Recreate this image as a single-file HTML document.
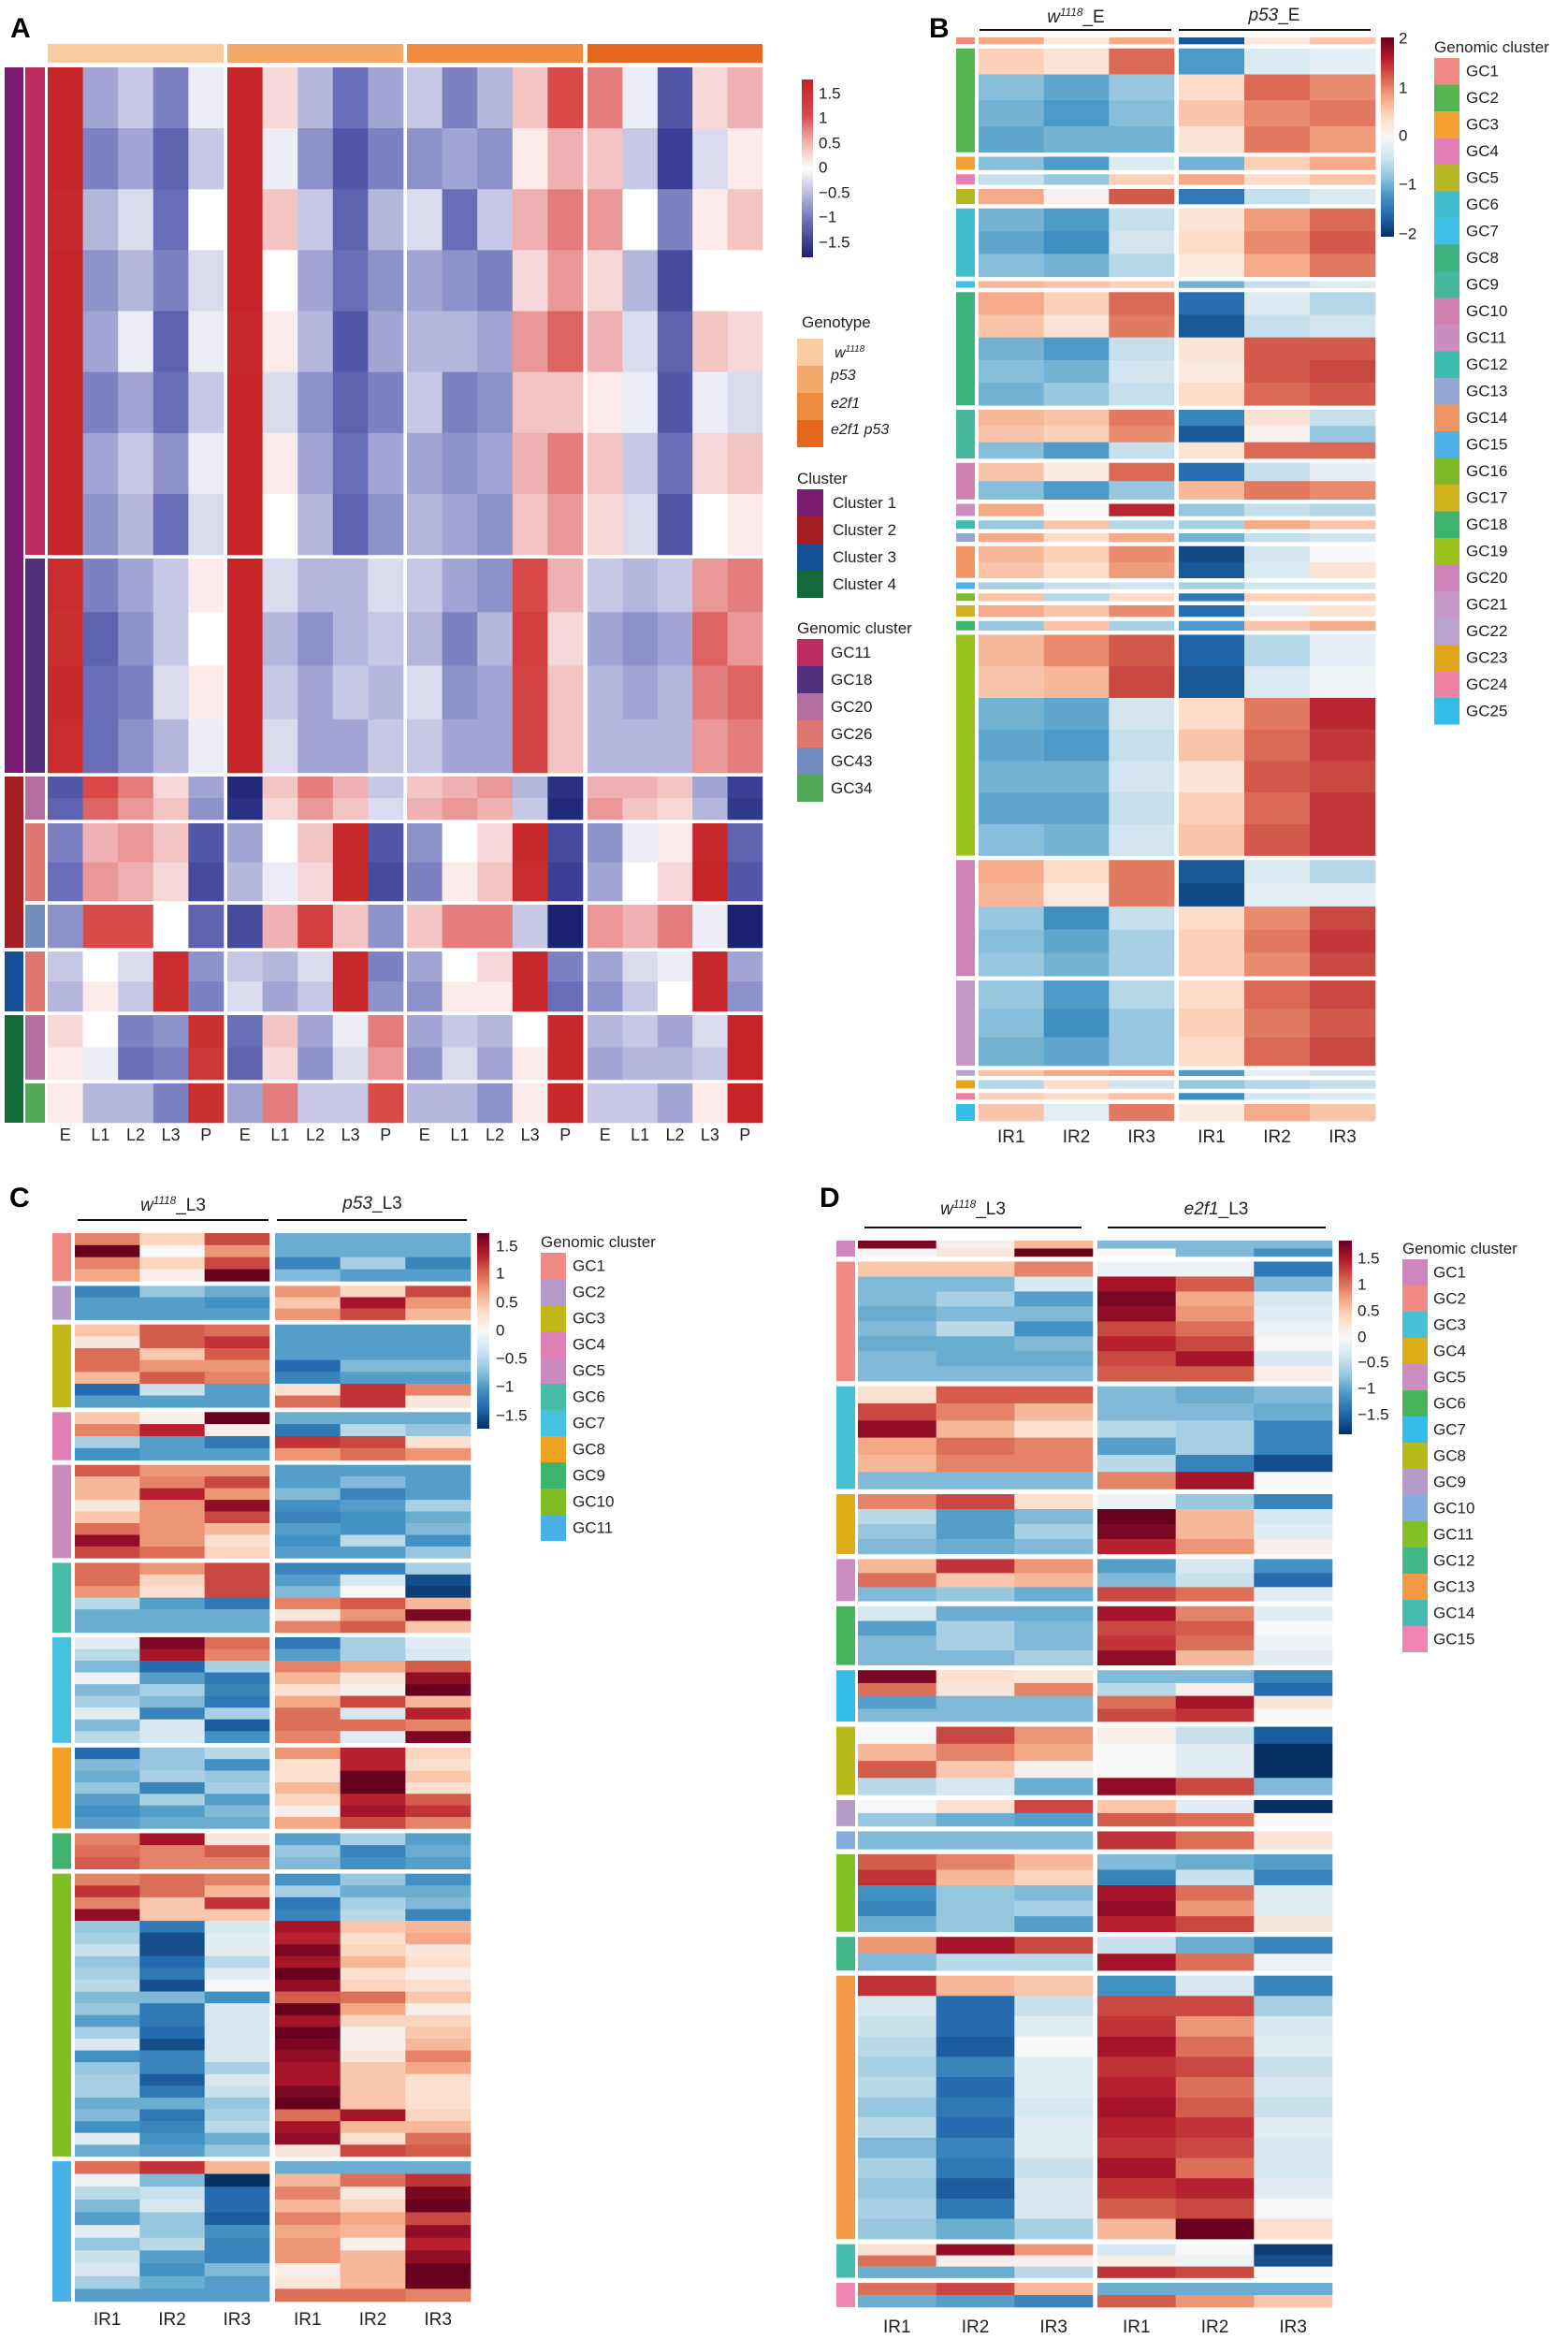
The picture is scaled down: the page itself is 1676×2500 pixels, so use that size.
<!DOCTYPE html>
<html><head><meta charset="utf-8"><style>
html,body{margin:0;padding:0;background:#fff}
svg{display:block;font-family:"Liberation Sans",sans-serif}
</style></head><body>
<svg id="fig" width="1676" height="2500" viewBox="0 0 1676 2500">
<defs>
<linearGradient id="gA" x1="0" y1="0" x2="0" y2="1">
<stop offset="0" stop-color="#c32027"/><stop offset="0.2" stop-color="#d84a4a"/><stop offset="0.35" stop-color="#eeb0b0"/><stop offset="0.5" stop-color="#ffffff"/><stop offset="0.65" stop-color="#b4b6dc"/><stop offset="0.8" stop-color="#6a6eb8"/><stop offset="1" stop-color="#1a2170"/></linearGradient>
<linearGradient id="gR" x1="0" y1="0" x2="0" y2="1">
<stop offset="0" stop-color="#67001f"/><stop offset="0.1" stop-color="#b2182b"/><stop offset="0.2" stop-color="#d6604d"/><stop offset="0.3" stop-color="#f4a582"/><stop offset="0.4" stop-color="#fddbc7"/><stop offset="0.5" stop-color="#f7f7f7"/><stop offset="0.6" stop-color="#d1e5f0"/><stop offset="0.7" stop-color="#92c5de"/><stop offset="0.8" stop-color="#4393c3"/><stop offset="0.9" stop-color="#2166ac"/><stop offset="1" stop-color="#053061"/></linearGradient>
</defs>
<g font-weight="bold" font-size="30" fill="#000">
<text x="11" y="40">A</text>
<text x="993" y="40">B</text>
<text x="10" y="1290">C</text>
<text x="876" y="1290">D</text>
</g>
<g id="layer"></g>
</svg>
<script>
// ---------- DATA ----------
const aGenotypes=["w1118","p53","e2f1","e2f1 p53"];
const aStages=["E","L1","L2","L3","P"];
const aBlockNames=["GC11","GC18","GC20","GC26","GC43","GC26","GC20","GC34"];
const aBlockClusters=[1,1,2,2,2,3,4,4];
const aBlockCounts=[521,229,46,83,46,64,69,42];
const aRows=[
[[1.5,-0.5,-0.3,-0.7,-0.1,1.5,0.2,-0.4,-0.8,-0.5,-0.3,-0.7,-0.4,0.3,0.8,0.6,-0.1,-1.0,0.2,0.4],
 [1.5,-0.7,-0.5,-0.9,-0.3,1.5,-0.1,-0.6,-1.0,-0.7,-0.6,-0.5,-0.6,0.1,0.4,0.3,-0.3,-1.2,-0.2,0.1],
 [1.4,-0.4,-0.2,-0.8,0.0,1.5,0.3,-0.3,-0.9,-0.4,-0.2,-0.8,-0.3,0.4,0.6,0.5,0.0,-0.7,0.1,0.3],
 [1.5,-0.6,-0.4,-0.7,-0.2,1.5,0.0,-0.5,-0.8,-0.6,-0.5,-0.6,-0.7,0.2,0.5,0.2,-0.4,-1.1,0.0,0.0],
 [1.5,-0.5,-0.1,-0.9,-0.1,1.4,0.1,-0.4,-1.0,-0.5,-0.4,-0.4,-0.5,0.5,0.7,0.4,-0.2,-0.9,0.3,0.2],
 [1.5,-0.7,-0.5,-0.8,-0.3,1.5,-0.2,-0.6,-0.9,-0.7,-0.3,-0.7,-0.6,0.3,0.3,0.1,-0.1,-1.0,-0.1,-0.2],
 [1.5,-0.5,-0.3,-0.6,-0.1,1.5,0.1,-0.5,-0.8,-0.5,-0.5,-0.6,-0.5,0.4,0.6,0.3,-0.3,-0.8,0.2,0.3],
 [1.5,-0.6,-0.4,-0.8,-0.2,1.5,0.0,-0.4,-0.9,-0.6,-0.4,-0.5,-0.6,0.3,0.5,0.2,-0.2,-1.0,0.0,0.1]],
[[1.3,-0.7,-0.5,-0.3,0.1,1.5,-0.2,-0.4,-0.4,-0.2,-0.3,-0.5,-0.6,0.8,0.4,-0.3,-0.4,-0.3,0.5,0.6],
 [1.2,-0.9,-0.6,-0.3,0.0,1.5,-0.4,-0.6,-0.4,-0.3,-0.4,-0.7,-0.4,1.0,0.2,-0.5,-0.6,-0.5,0.7,0.5],
 [1.4,-0.8,-0.7,-0.2,0.1,1.5,-0.3,-0.5,-0.3,-0.4,-0.2,-0.6,-0.5,0.9,0.3,-0.4,-0.5,-0.4,0.6,0.7],
 [1.3,-0.8,-0.6,-0.4,-0.1,1.5,-0.2,-0.5,-0.5,-0.3,-0.3,-0.5,-0.5,0.9,0.3,-0.4,-0.4,-0.4,0.5,0.6]],
[[-1.0,0.8,0.6,0.2,-0.5,-1.5,0.3,0.6,0.4,-0.3,0.3,0.4,0.5,-0.4,-1.4,0.4,0.4,0.3,-0.5,-1.2],
 [-0.9,0.7,0.5,0.3,-0.6,-1.4,0.2,0.5,0.3,-0.2,0.4,0.5,0.4,-0.3,-1.5,0.5,0.3,0.2,-0.4,-1.3]],
[[-0.7,0.4,0.5,0.3,-1.0,-0.5,0.0,0.3,1.4,-1.0,-0.6,0.0,0.2,1.4,-1.1,-0.6,-0.1,0.1,1.4,-0.9],
 [-0.8,0.5,0.4,0.2,-1.1,-0.4,-0.1,0.2,1.4,-1.1,-0.7,0.1,0.3,1.3,-1.2,-0.5,0.0,0.2,1.5,-1.0]],
[[-0.6,0.8,0.8,0.0,-0.9,-1.1,0.4,1.0,0.3,-0.6,0.3,0.6,0.6,-0.3,-1.6,0.5,0.4,0.6,-0.1,-1.7]],
[[-0.3,0.0,-0.2,1.3,-0.6,-0.3,-0.4,-0.2,1.4,-0.7,-0.5,0.0,0.2,1.4,-0.7,-0.5,-0.2,-0.1,1.4,-0.5],
 [-0.4,0.1,-0.3,1.2,-0.7,-0.2,-0.5,-0.3,1.4,-0.6,-0.6,0.1,0.1,1.4,-0.8,-0.6,-0.3,0.0,1.4,-0.6]],
[[0.2,0.0,-0.7,-0.6,1.2,-0.8,0.3,-0.5,-0.1,0.6,-0.5,-0.3,-0.4,0.0,1.4,-0.4,-0.3,-0.5,-0.2,1.5],
 [0.1,-0.1,-0.8,-0.7,1.1,-0.9,0.2,-0.6,-0.2,0.5,-0.6,-0.2,-0.5,0.1,1.4,-0.5,-0.4,-0.4,-0.3,1.5]],
[[0.1,-0.4,-0.4,-0.7,1.2,-0.5,0.6,-0.3,-0.3,0.8,-0.4,-0.4,-0.6,0.1,1.4,-0.3,-0.3,-0.5,0.1,1.5]]
];

const bBlockNames=["GC1","GC2","GC3","GC4","GC5","GC6","GC7","GC8","GC9","GC10","GC11","GC12","GC13","GC14","GC15","GC16","GC17","GC18","GC19","GC20","GC21","GC22","GC23","GC24","GC25"];
const bBlockCounts=[7,111,14,11,16,73,7,121,52,39,13,9,9,34,7,8,12,10,236,124,91,6,9,7,18];
const bRows=[
[[0.8,0.2,0.8,-1.8,0.2,0.6]],
[[0.5,0.3,1.2,-1.2,-0.3,-0.2],[-0.9,-1.1,-0.8,0.4,1.2,1.0],[-1.0,-1.2,-0.9,0.6,1.0,1.1],[-1.1,-1.0,-1.0,0.3,1.1,0.9]],
[[-0.9,-1.2,-0.3,-1.0,0.5,0.8]],
[[-0.5,-0.8,0.5,0.8,0.4,0.6]],
[[0.8,0.1,1.3,-1.5,-0.5,-0.3]],
[[-1.0,-1.2,-0.5,0.3,0.9,1.2],[-1.1,-1.3,-0.4,0.4,1.0,1.3],[-0.9,-1.0,-0.6,0.2,0.8,1.1]],
[[0.7,0.6,0.5,-1.0,-0.5,-0.3]],
[[0.8,0.5,1.2,-1.6,-0.3,-0.6],[0.6,0.3,1.1,-1.8,-0.5,-0.4],[-1.0,-1.2,-0.5,0.3,1.3,1.3],[-0.9,-1.0,-0.4,0.2,1.3,1.4],[-1.0,-0.8,-0.5,0.4,1.2,1.3]],
[[0.7,0.6,1.1,-1.4,0.3,-0.5],[0.6,0.5,1.0,-1.8,0.1,-0.8],[-0.9,-1.2,-0.5,0.3,1.2,1.2]],
[[0.6,0.2,1.2,-1.6,-0.5,-0.2],[-0.9,-1.2,-0.8,0.7,1.1,1.0]],
[[0.8,0.0,1.6,-0.8,-0.5,-0.6]],
[[-0.8,0.6,-0.6,-0.7,0.8,0.6]],
[[0.8,0.4,0.8,-1.0,-0.5,-0.4]],
[[0.7,0.5,1.0,-1.9,-0.4,0.0],[0.6,0.4,0.9,-1.8,-0.3,0.3]],
[[-0.7,-0.5,-0.4,-0.7,-0.4,-0.4]],
[[0.6,-0.6,0.4,-1.5,0.5,0.5]],
[[0.8,0.6,1.0,-1.6,-0.2,0.3]],
[[-0.8,0.6,-0.7,-1.2,0.6,0.8]],
[[0.7,1.0,1.3,-1.7,-0.6,-0.2],[0.6,0.7,1.4,-1.8,-0.3,-0.1],[-1.0,-1.1,-0.4,0.4,1.1,1.6],[-1.1,-1.2,-0.5,0.6,1.2,1.5],[-1.0,-1.0,-0.4,0.3,1.3,1.4],[-1.1,-1.1,-0.5,0.5,1.2,1.5],[-0.9,-1.0,-0.4,0.6,1.3,1.5]],
[[0.8,0.4,1.1,-1.8,-0.3,-0.6],[0.7,0.2,1.1,-1.9,-0.2,-0.2],[-0.8,-1.3,-0.5,0.4,1.0,1.4],[-0.9,-1.1,-0.7,0.5,1.1,1.5],[-0.8,-1.0,-0.7,0.5,1.0,1.4]],
[[-0.8,-1.2,-0.6,0.4,1.2,1.4],[-0.9,-1.3,-0.8,0.5,1.1,1.3],[-1.0,-1.1,-0.8,0.4,1.2,1.4]],
[[0.6,0.8,0.9,-1.2,-0.2,-0.4]],
[[-0.6,0.4,-0.4,-0.8,-0.6,-0.5]],
[[0.5,0.4,0.6,-1.3,-0.4,-0.3]],
[[0.6,-0.2,1.1,0.2,0.8,0.6]]
];

const cBlockNames=["GC1","GC2","GC3","GC4","GC5","GC6","GC7","GC8","GC9","GC10","GC11"];
const cBlockCounts=[51,36,88,51,99,74,112,86,38,300,149];
const cRows=[
[[0.9,0.4,1.2,-0.9,-0.9,-0.9],[1.8,0,0.8,-0.9,-0.9,-0.9],[0.9,0.4,1.2,-1.2,-0.6,-1.2],[0.7,0.1,1.8,-0.8,-1.0,-1.0]],
[[-1.2,-0.7,-0.9,0.8,0.4,1.2],[-1.0,-1.0,-1.1,0.5,1.5,0.8],[-1.0,-1.0,-1.0,0.8,1.2,0.6]],
[[0.5,1.1,1.0,-1.0,-1.0,-1.0],[0.2,1.1,1.3,-1.0,-1.0,-1.0],[1.0,0.5,1.1,-1.0,-1.0,-1.0],[1.0,0.8,0.8,-1.4,-0.8,-0.8],[0.6,1.1,0.9,-1.2,-1.0,-1.0],[-1.4,-0.4,-1.0,0.3,1.3,0.9],[-1.0,-1.0,-1.0,1.0,1.3,0.2]],
[[0.5,0.1,1.9,-0.9,-0.9,-0.9],[0.9,1.4,0.1,-1.3,-0.5,-0.7],[-0.6,-1.0,-1.3,1.3,1.2,0.3],[-1.1,-1.0,-1.0,0.8,1.0,0.8]],
[[1.1,0.8,0.8,-1.0,-1.0,-1.0],[0.6,0.9,1.2,-1.0,-0.8,-1.0],[0.6,1.4,0.8,-0.8,-1.2,-1.0],[0.2,0.8,1.6,-1.1,-1.0,-0.6],[0.5,0.8,1.2,-1.2,-1.1,-0.9],[1.0,0.8,0.6,-1.0,-1.1,-0.8],[1.6,0.8,0.3,-1.1,-0.5,-1.1],[1.2,1.0,0.4,-1.0,-1.0,-0.7]],
[[1.0,0.8,1.2,-1.2,-1.2,-0.6],[1.0,0.4,1.2,-1.0,-0.3,-1.6],[0.8,0.3,1.2,-0.8,0,-1.7],[-0.5,-1.0,-1.3,0.9,1.1,0.6],[-0.9,-0.9,-0.9,0.2,0.8,1.7],[-0.9,-0.9,-0.9,0.9,1.1,0.5]],
[[-0.2,1.7,1.0,-1.3,-0.6,-0.2],[-0.5,1.5,0.9,-1.0,-0.6,-0.3],[-0.8,-1.4,-0.6,0.9,0.7,1.1],[-0.1,-1.0,-1.3,0.6,0.2,1.6],[-0.8,-0.6,-1.2,0.3,0.1,1.9],[-0.6,-0.8,-1.3,0.7,1.2,0.6],[-0.2,-1.2,-0.6,1.0,-0.3,1.4],[-0.8,-0.3,-1.5,1.0,1.0,0.9],[-0.5,-0.3,-1.1,0.9,-0.2,1.7]],
[[-1.4,-0.7,-0.5,0.8,1.4,0.4],[-0.8,-0.7,-1.1,0.3,1.4,0.3],[-0.9,-0.6,-0.7,0.3,1.9,0.5],[-0.7,-1.2,-0.6,0.6,1.8,0.3],[-1.0,-0.6,-1.0,0.4,1.4,1.1],[-1.1,-1.0,-0.8,0.1,1.5,1.3],[-1.0,-0.9,-0.9,0.7,1.2,0.9]],
[[0.9,1.5,0.2,-1.0,-0.6,-1.0],[1.0,0.9,1.1,-0.7,-1.2,-0.9],[1.1,0.9,0.9,-0.8,-1.1,-1.0]],
[[0.9,1.0,0.9,-1.1,-0.7,-1.1],[1.3,1.0,0.6,-0.6,-0.9,-0.9],[0.9,0.5,1.3,-1.3,-0.6,-0.8],[1.6,0.5,0.5,-1.2,-0.5,-1.2],[-0.7,-1.3,-0.3,1.5,0.5,0.6],[-0.6,-1.6,-0.2,1.4,0.3,0.7],[-0.4,-1.6,-0.2,1.7,0.4,0.2],[-0.7,-1.4,-0.5,1.5,0.6,0.3],[-0.6,-1.3,-0.2,1.8,0.3,0.1],[-0.5,-1.6,0,1.6,0.4,0.3],[-0.8,-0.8,-1.1,1.1,1.0,0.5],[-0.7,-1.3,-0.3,1.8,0.7,0.1],[-1.0,-1.3,-0.3,1.5,0.4,0.4],[-0.6,-1.4,-0.3,1.8,0.1,0.5],[-0.3,-1.6,-0.3,1.7,0.1,0.6],[-1.1,-1.2,-0.3,1.6,0.2,0.9],[-0.7,-1.2,-0.6,1.5,0.5,0.7],[-0.6,-1.5,-0.3,1.5,0.5,0.3],[-0.6,-1.3,-0.4,1.7,0.5,0.3],[-0.9,-0.9,-0.7,1.9,0.5,0.3],[-0.8,-1.3,-0.6,1.0,1.5,0.4],[-1.1,-1.2,-0.5,1.5,0.6,0.6],[-0.2,-1.1,-0.9,1.6,0.3,1.0],[-0.9,-1.0,-0.7,0.2,1.2,1.1]],
[[1.0,1.3,0.6,-0.9,-0.9,-0.9],[-0.1,-0.8,-1.8,0.6,1.0,1.3],[-0.5,-0.4,-1.4,0.9,0.2,1.7],[-0.8,-0.3,-1.4,0.6,0.4,1.9],[-1.0,-0.7,-1.5,0.9,0.7,1.2],[-0.2,-0.7,-1.1,0.7,0.6,1.6],[-0.7,-0.5,-1.2,0.8,0.1,1.4],[-0.4,-1.0,-1.2,0.8,0.6,1.6],[-0.3,-1.1,-0.8,0.1,0.6,1.9],[-0.6,-0.9,-1.0,0.2,0.6,1.8],[-1.0,-1.0,-1.0,1.0,1.0,0.9]]
];

const dBlockNames=["GC1","GC2","GC3","GC4","GC5","GC6","GC7","GC8","GC9","GC10","GC11","GC12","GC13","GC14","GC15"];
const dBlockCounts=[17,128,110,64,45,63,55,73,28,19,83,36,282,36,26];
const dRows=[
[[1.7,0.1,0.6,-0.8,-0.8,-0.8],[0,0.2,1.8,0,-0.8,-1.1]],
[[0.5,0.5,0.9,-0.1,-0.1,-1.3],[-0.8,-0.8,-0.3,1.5,1.1,-0.8],[-0.8,-0.6,-1.0,1.7,0.7,-0.3],[-0.9,-0.8,-0.8,1.6,0.8,-0.2],[-0.8,-0.5,-1.1,1.2,1.0,-0.1],[-0.9,-0.9,-0.8,1.4,1.2,0],[-0.8,-0.9,-0.9,1.2,1.5,-0.3],[-0.8,-0.8,-0.8,1.1,1.1,0.1]],
[[0.3,1.1,1.1,-0.8,-0.9,-0.8],[1.2,0.9,0.6,-0.8,-0.8,-0.9],[1.6,0.6,0.3,-0.5,-0.6,-1.2],[0.7,1.0,0.9,-1.0,-0.6,-1.2],[0.6,0.9,0.9,-0.5,-1.2,-1.6],[-0.8,-0.8,-0.8,0.9,1.5,0]],
[[0.9,1.2,0.3,-0.1,-0.7,-1.2],[-0.5,-1.0,-0.8,1.8,0.6,-0.3],[-0.7,-1.0,-0.6,1.7,0.6,-0.2],[-0.8,-0.9,-0.8,1.4,0.8,0.1]],
[[0.6,1.3,0.8,-1.0,-0.3,-1.1],[1.0,0.5,0.6,-0.8,-0.4,-1.4],[-0.8,-0.7,-0.9,1.2,1.0,-0.2]],
[[-0.3,-0.9,-0.9,1.5,0.9,-0.2],[-1.0,-0.6,-0.8,1.2,1.1,0],[-0.8,-0.6,-0.8,1.3,1.0,-0.1],[-0.8,-0.8,-0.6,1.6,0.6,-0.2]],
[[1.7,0.3,0.2,-0.8,-0.8,-1.2],[1.0,0.2,0.9,-0.5,0.1,-1.4],[-1.0,-0.8,-0.8,1.0,1.5,0.2],[-0.8,-0.8,-0.8,1.2,1.3,0]],
[[0,1.2,0.8,0.1,-0.4,-1.5],[0.6,0.9,0.7,0,-0.2,-1.9],[1.1,0.5,0.1,0,-0.2,-1.8],[-0.5,-0.3,-0.9,1.6,1.2,-0.8]],
[[0,0.3,1.2,0.5,-0.2,-1.8],[-0.7,-0.9,-1.0,1.1,1.0,0]],
[[-0.8,-0.8,-0.8,1.3,1.0,0.2]],
[[1.1,0.9,0.6,-0.8,-0.9,-1.0],[1.3,0.6,0.4,-1.2,-0.4,-1.2],[-1.1,-0.7,-0.8,1.5,1.0,-0.2],[-1.2,-0.7,-0.6,1.6,0.8,-0.2],[-0.9,-0.7,-1.0,1.4,1.2,0.2]],
[[0.8,1.5,1.2,-0.4,-0.9,-1.2],[-0.8,-0.5,-0.5,1.5,1.0,-0.1]],
[[1.3,0.6,0.5,-1.1,-0.3,-1.2],[-0.3,-1.4,-0.4,1.2,1.2,-0.6],[-0.4,-1.4,-0.2,1.3,0.8,-0.3],[-0.5,-1.5,0,1.5,1.0,-0.2],[-0.6,-1.2,-0.2,1.3,1.2,-0.4],[-0.5,-1.4,-0.2,1.4,1.0,-0.3],[-0.7,-1.3,-0.3,1.5,1.1,-0.4],[-0.5,-1.4,-0.2,1.4,1.3,-0.2],[-0.8,-1.2,-0.2,1.3,1.2,-0.3],[-0.6,-1.3,-0.4,1.5,1.0,-0.3],[-0.7,-1.5,-0.3,1.3,1.4,-0.2],[-0.6,-1.3,-0.3,1.1,1.2,0],[-0.7,-0.9,-0.6,0.6,1.8,0.3]],
[[0.3,1.6,0.8,-0.3,0,-1.7],[1.0,0.1,0.1,0.1,-0.1,-1.6],[-0.9,-0.9,-0.5,1.3,1.2,0]],
[[1.0,1.2,0.6,-0.9,-0.9,-0.9],[-0.9,-1.0,-1.2,1.1,0.8,0.5]]
];

// ---------- COLORS ----------
const aClusterColors={1:"#7a1c74",2:"#a61d24",3:"#154f97",4:"#136a38"};
const aGcColors={GC11:"#be2d62",GC18:"#52307c",GC20:"#b56ea0",GC26:"#dc7871",GC43:"#718ebf",GC34:"#55a857"};
const aGenoColors=["#f8cba0","#f4a96a","#ef8b3e","#e6691d"];
const bColors=["#f08a82","#52b550","#f5a033","#e57eb5","#b5b823","#42bdd0","#40c0e8","#3db380","#45b89b","#d27fb2","#cc8cbf","#3fbcb0","#93a6d4","#f19464","#4eb0e8","#7dbb28","#d1b21d","#3db46c","#9bc21c","#cd82b8","#c497c6","#b9a2cf","#e3a51b","#ef82a3","#35bde9"];
const cColors=["#f08a82","#b59ccb","#c2b81a","#e080b5","#cb8bbf","#47bda8","#46c1e0","#f0a022","#3fb46e","#80bd24","#48b2e8"];
const dColors=["#cf86bf","#f08a82","#45c0d5","#dcac19","#cc8dc0","#47b55b","#34bde9","#b6bb1b","#b59ccb","#86ade0","#82c026","#42b789","#f39a47","#47bcb0","#ef85b1"];

const NS="http://www.w3.org/2000/svg";
const layer=document.getElementById("layer");
function mk(tag,attrs,parent){const e=document.createElementNS(NS,tag);for(const k in attrs)e.setAttribute(k,attrs[k]);(parent||layer).appendChild(e);return e;}
function hex(h){return [parseInt(h.slice(1,3),16),parseInt(h.slice(3,5),16),parseInt(h.slice(5,7),16)];}
function interp(stops,t){t=Math.max(0,Math.min(1,t));const p=t*(stops.length-1);const i=Math.min(stops.length-2,Math.floor(p));const f=p-i;const a=hex(stops[i]),b=hex(stops[i+1]);return "rgb("+a.map((v,k)=>Math.round(v+(b[k]-v)*f)).join(",")+")";}
const rdbu=["#053061","#2166ac","#4393c3","#92c5de","#d1e5f0","#f7f7f7","#fddbc7","#f4a582","#d6604d","#b2182b","#67001f"];
const aStops=["#1a2170","#3a3f95","#6a6eb8","#b4b6dc","#ffffff","#eeb0b0","#d84a4a","#cb3030","#c32027"];
function colA(v){return interp(aStops,(v+1.6)/3.2);}
function colB(v){return interp(rdbu,(v+2.1)/4.2);}
function colCD(v){return interp(rdbu,(v+1.8)/3.6);}

// y-scale from counts
function blockY(counts,y0,y1,gap){const tot=counts.reduce((a,b)=>a+b,0);const k=(y1-y0-gap*(counts.length-1))/tot;const out=[];let y=y0;counts.forEach(c=>{out.push([y,y+c*k]);y+=c*k+gap;});return out;}

function heat(name,rows,counts,ys,groups,ncol,colFn){
  const g=mk("g",{});
  
  
  rows.forEach((blk,bi)=>{
    const [ya,yb]=ys[bi];const rh=(yb-ya)/blk.length;
    blk.forEach((r,ri)=>{
      groups.forEach((gr,gi)=>{
        const cw=(gr[1]-gr[0])/ncol;
        for(let c=0;c<ncol;c++){
          const v=r[gi*ncol+c];
          const rc=mk("rect",{x:(gr[0]+c*cw).toFixed(2),y:(ya+ri*rh).toFixed(2),width:(cw+0.3).toFixed(2),height:(rh+0.3).toFixed(2),fill:colFn(v)},g);
          
          
        }
      });
    });
  });
}
function txt(s,x,y,size,attrs,name){const t=mk("text",Object.assign({x:x,y:y,"font-size":size,fill:"#222"},attrs||{}));t.textContent=s;
  
  
  return t;}
function annot(name,ys,colors,x,w){ys.forEach((yy,i)=>{const r=mk("rect",{x:x,y:yy[0],width:w,height:yy[1]-yy[0],fill:colors[i]});
  
  });}
function colorbar(name,x,y,w,h,grad,labels,lx,size){const r=mk("rect",{x:x,y:y,width:w,height:h,fill:"url(#"+grad+")"});
  
  
  labels.forEach(l=>txt(l[0],lx,l[1],size,{"dominant-baseline":"middle"},"colorbar-tick"));}
function legend(title,names,colors,x,y0,sw,sh,step,tx,size){txt(title,x,y0-6,size,{},"legend-title");
  names.forEach((n,i)=>{const r=mk("rect",{x:x,y:y0+i*step,width:sw,height:sh,fill:colors[i]});
    
    
    txt(n,tx,y0+i*step+sh/2+1,size,{"dominant-baseline":"middle"},"legend-entry");});}
function italSup(x,y,size,base,sup,rest,anchor,name){const t=mk("text",{x:x,y:y,"font-size":size,fill:"#222","text-anchor":anchor||"middle"});
  
  
  const a=mk("tspan",{"font-style":"italic"},t);a.textContent=base;
  if(sup){const b=mk("tspan",{"font-style":"italic","font-size":size*0.62,dy:-size*0.38},t);b.textContent=sup;}
  if(rest){const c=mk("tspan",{dy:sup?size*0.38:0},t);c.textContent=rest;}
  return t;}

// ---------- PANEL A ----------
(function(){
  const groups=[[51,239],[243,431],[435,623],[628,815]];
  const ys=blockY(aBlockCounts,72,1200,4);
  groups.forEach((g,i)=>{const r=mk("rect",{x:g[0],y:47,width:g[1]-g[0],height:20,fill:aGenoColors[i]});
    
    });
  heat("heatmap-a",aRows,aBlockCounts,ys,groups,5,colA);
  annot("genomic-cluster-annotation",ys,aBlockNames.map(n=>aGcColors[n]),27,21);
  // cluster spans
  const spans={};aBlockClusters.forEach((c,i)=>{if(!spans[c])spans[c]=[ys[i][0],ys[i][1]];else spans[c][1]=ys[i][1];});
  Object.keys(spans).forEach(c=>{const r=mk("rect",{x:5,y:spans[c][0],width:20,height:spans[c][1]-spans[c][0],fill:aClusterColors[c]});
    
    });
  groups.forEach(g=>{const cw=(g[1]-g[0])/5;aStages.forEach((s,i)=>txt(s,g[0]+cw*(i+0.5),1219,18,{"text-anchor":"middle"},"stage-label"));});
  colorbar("colorbar-a",857,85,12,190,"gA",[["1.5",101],["1",127],["0.5",154],["0",180],["\u22120.5",207],["\u22121",233],["\u22121.5",260]],875,17);
  txt("Genotype",857,350,17,{},"legend-title");
  aGenotypes.forEach((n,i)=>{const r=mk("rect",{x:852,y:362+i*29,width:28,height:29,fill:aGenoColors[i]});
    
    });
  italSup(892,382,16,"w","1118","",'start',"legend-entry");
  txt("p53",888,406,16,{"font-style":"italic"},"legend-entry");
  txt("e2f1",888,436,16,{"font-style":"italic"},"legend-entry");
  txt("e2f1 p53",888,464,16,{"font-style":"italic"},"legend-entry");
  legend("Cluster",["Cluster 1","Cluster 2","Cluster 3","Cluster 4"],[aClusterColors[1],aClusterColors[2],aClusterColors[3],aClusterColors[4]],852,523,28,29,29,890,17);
  legend("Genomic cluster",["GC11","GC18","GC20","GC26","GC43","GC34"],["#be2d62","#52307c","#b56ea0","#dc7871","#718ebf","#55a857"],852,683,28,29,29,888,17);
})();

// ---------- PANEL B ----------
(function(){
  const groups=[[1046,1255],[1260,1470]];
  const ys=blockY(bBlockCounts,40,1198,4.75);
  heat("heatmap-b",bRows,bBlockCounts,ys,groups,3,colB);
  annot("genomic-cluster-annotation",ys,bColors,1022,20);
  [[1047,1252],[1260,1465]].forEach(l=>{const e=mk("line",{x1:l[0],x2:l[1],y1:32,y2:32,stroke:"#111","stroke-width":2});
    
    });
  italSup(1150,24,19,"w","1118","_E","middle","group-title");
  italSup(1362,22,19,"p53","","_E","middle","group-title");
  groups.forEach(g=>{const cw=(g[1]-g[0])/3;["IR1","IR2","IR3"].forEach((s,i)=>txt(s,g[0]+cw*(i+0.5),1221,19,{"text-anchor":"middle"},"replicate-label"));});
  colorbar("colorbar-b",1476,40,14,213,"gR",[["2",42],["1",95],["0",146],["\u22121",198],["\u22122",251]],1495,17);
  legend("Genomic cluster",bBlockNames,bColors,1533,62,27,28.5,28.5,1567,17);
})();

// ---------- PANEL C ----------
(function(){
  const groups=[[80,288],[294,503]];
  const ys=blockY(cBlockCounts,1318,2460,5);
  heat("heatmap-c",cRows,cBlockCounts,ys,groups,3,colCD);
  annot("genomic-cluster-annotation",ys,cColors,56,20);
  [[83,287],[296,499]].forEach(l=>{const e=mk("line",{x1:l[0],x2:l[1],y1:1304,y2:1304,stroke:"#111","stroke-width":2});
    
    });
  italSup(185,1294,19,"w","1118","_L3","middle","group-title");
  italSup(398,1292,19,"p53","","_L3","middle","group-title");
  groups.forEach(g=>{const cw=(g[1]-g[0])/3;["IR1","IR2","IR3"].forEach((s,i)=>txt(s,g[0]+cw*(i+0.5),2485,19,{"text-anchor":"middle"},"replicate-label"));});
  colorbar("colorbar-c",510,1318,13,209,"gR",[["1.5",1333],["1",1362],["0.5",1393],["0",1423],["\u22120.5",1453],["\u22121",1483],["\u22121.5",1514]],530,17);
  legend("Genomic cluster",cBlockNames,cColors,578,1339,27,28,28,612,17);
})();

// ---------- PANEL D ----------
(function(){
  const groups=[[917,1168],[1173,1424]];
  const ys=blockY(dBlockCounts,1326,2466,5.5);
  heat("heatmap-d",dRows,dBlockCounts,ys,groups,3,colCD);
  annot("genomic-cluster-annotation",ys,dColors,894,20);
  [[924,1156],[1184,1417]].forEach(l=>{const e=mk("line",{x1:l[0],x2:l[1],y1:1312,y2:1312,stroke:"#111","stroke-width":2});
    
    });
  italSup(1040,1298,19,"w","1118","_L3","middle","group-title");
  italSup(1300,1298,19,"e2f1","","_L3","middle","group-title");
  groups.forEach(g=>{const cw=(g[1]-g[0])/3;["IR1","IR2","IR3"].forEach((s,i)=>txt(s,g[0]+cw*(i+0.5),2493,19,{"text-anchor":"middle"},"replicate-label"));});
  colorbar("colorbar-d",1431,1326,14,207,"gR",[["1.5",1346],["1",1374],["0.5",1402],["0",1430],["\u22120.5",1457],["\u22121",1485],["\u22121.5",1513]],1451,17);
  legend("Genomic cluster",dBlockNames,dColors,1499,1346,27,28,28,1532,17);
})();
</script>
</body></html>
